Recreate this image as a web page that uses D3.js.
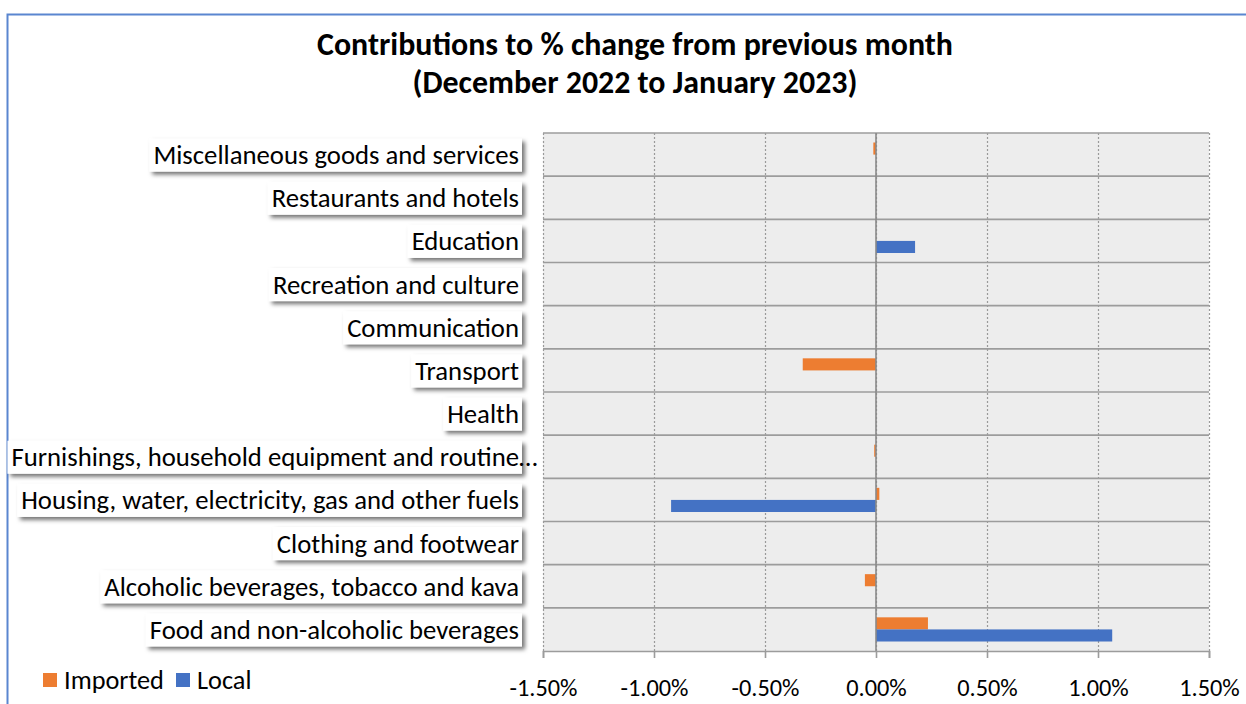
<!DOCTYPE html>
<html>
<head>
<meta charset="utf-8">
<script src="https://cdn.jsdelivr.net/npm/d3@7"></script>
<style>
  body { margin: 0; background: #fff; }
  svg { display: block; font-family: Carlito, "Open Sans", sans-serif; }
</style>
</head>
<body>
<div id="chart"></div>
<script>
// categories, bottom row first
var categories = [
  "Food and non-alcoholic beverages",
  "Alcoholic beverages, tobacco and kava",
  "Clothing and footwear",
  "Housing, water, electricity, gas and other fuels",
  "Furnishings, household equipment and routine",
  "Health",
  "Transport",
  "Communication",
  "Recreation and culture",
  "Education",
  "Restaurants and hotels",
  "Miscellaneous goods and services"
];
var series = ["Imported", "Local"];
var imported = [0.00234, -0.0005, 0, 0.00015, -0.00008, 0, -0.0033, 0, 0, 0, 0, -0.00012];
var local = [0.01064, 0, 0, -0.00923, 0, 0, 0, 0, 0, 0.00176, 0, 0];
var xTicks = [-0.015, -0.01, -0.005, 0, 0.005, 0.01, 0.015];
var colors = { Imported: "#ED7D31", Local: "#4472C4" };

var svgWidth = 1246;
var svgHeight = 704;
var margin = { top: 133, right: 37, bottom: 53, left: 543 };
var width = svgWidth - margin.left - margin.right;
var height = svgHeight - margin.top - margin.bottom;
var FONT = "Carlito, 'Open Sans', sans-serif";

var rows = categories.map(function(c, i) {
  return { cat: c, Imported: imported[i], Local: local[i] };
});

var svg = d3.select("#chart")
  .append("svg")
  .attr("width", svgWidth)
  .attr("height", svgHeight);

// font size that makes a sample string reach a target width
function fitSize(sample, target, weight) {
  var t = svg.append("text").attr("font-size", 20).attr("font-weight", weight || "normal")
    .style("font-family", FONT).text(sample);
  var w = t.node().getComputedTextLength();
  t.remove();
  return 20 * target / w;
}
var labelSize = fitSize("Housing, water, electricity, gas and other fuels", 498);
var titleSize = fitSize("Contributions to % change from previous month", 636, "bold");
var tickSize = fitSize("-1.00%", 68);
var legendSize = fitSize("Imported", 100);

var defs = svg.append("defs");
var shadow = defs.append("filter").attr("id", "shadow")
  .attr("x", "-5%").attr("y", "-30%").attr("width", "115%").attr("height", "180%");
shadow.append("feDropShadow")
  .attr("dx", 3).attr("dy", 3).attr("stdDeviation", 2)
  .attr("flood-color", "#000").attr("flood-opacity", 0.55);

// outer frame (only top and left edges visible)
svg.append("path")
  .attr("d", "M7.5," + svgHeight + "V14.5H" + svgWidth)
  .attr("fill", "none")
  .attr("stroke", "#5a86d0")
  .attr("stroke-width", 2);

// title
var title = svg.append("text")
  .attr("text-anchor", "middle")
  .attr("font-weight", "bold")
  .attr("font-size", titleSize)
  .attr("fill", "#000");
title.append("tspan").attr("x", 635).attr("y", 55).text("Contributions to % change from previous month");
title.append("tspan").attr("x", 635).attr("y", 93).text("(December 2022 to January 2023)");

var chart = svg.append("g")
  .attr("transform", `translate(${margin.left}, ${margin.top})`);

var x = d3.scaleLinear()
  .domain([-0.015, 0.015])
  .range([0, width]);

var y = d3.scaleBand()
  .domain(categories.slice().reverse())
  .range([0, height])
  .paddingInner(0.44)
  .paddingOuter(0.22);

var ySub = d3.scaleBand()
  .domain(series)
  .range([0, y.bandwidth()]);

// plot background
chart.append("rect")
  .attr("width", width)
  .attr("height", height)
  .attr("fill", "#ededed");

// vertical dotted gridlines
chart.append("g")
  .call(d3.axisBottom(x).tickValues(xTicks).tickSize(height).tickFormat(""))
  .call(function(g) {
    g.select(".domain").remove();
    g.selectAll("line").attr("stroke", "#9a9a9a").attr("stroke-dasharray", "2,2").attr("stroke-width", 1.2);
  });

// horizontal row separators
var step = y.step();
chart.append("g")
  .selectAll("line")
  .data(categories)
  .enter()
  .append("line")
  .attr("x1", 0)
  .attr("x2", width)
  .attr("y1", d => y(d) - y.paddingInner() * step / 2)
  .attr("y2", d => y(d) - y.paddingInner() * step / 2)
  .attr("stroke", "#9c9c9c")
  .attr("stroke-width", 1.6);

// bars
var groups = chart.selectAll(".cat")
  .data(rows)
  .enter()
  .append("g")
  .attr("class", "cat")
  .attr("transform", d => `translate(0, ${y(d.cat)})`);

groups.selectAll("rect")
  .data(d => series.map(s => ({ s: s, v: d[s] })))
  .enter()
  .append("rect")
  .attr("x", d => x(Math.min(0, d.v)))
  .attr("y", d => ySub(d.s))
  .attr("width", d => Math.abs(x(d.v) - x(0)))
  .attr("height", ySub.bandwidth())
  .attr("fill", d => colors[d.s]);

// zero line
chart.append("line")
  .attr("x1", x(0)).attr("x2", x(0))
  .attr("y1", 0).attr("y2", height)
  .attr("stroke", "#8a8a8a")
  .attr("stroke-width", 1.6);

// bottom axis
var pct = d3.format(".2%");
chart.append("g")
  .attr("transform", `translate(0, ${height})`)
  .call(d3.axisBottom(x).tickValues(xTicks).tickFormat(d => pct(d).replace("\u2212", "-")).tickSize(7).tickPadding(21))
  .call(function(g) {
    g.select(".domain").attr("stroke", "#9c9c9c").attr("stroke-width", 1.6);
    g.selectAll("line").attr("stroke", "#9c9c9c").attr("stroke-width", 1.6);
    g.selectAll("text").attr("font-size", tickSize).attr("fill", "#000")
      .style("font-family", FONT);
  });

// category labels in shadowed white boxes
var leftAxis = chart.append("g")
  .attr("transform", "translate(-24, 1)")
  .call(d3.axisLeft(y).tickSize(0).tickPadding(0))
  .call(function(g) {
    g.select(".domain").remove();
    g.selectAll("text").attr("font-size", labelSize).attr("fill", "#000")
      .style("font-family", FONT);
  });

leftAxis.selectAll(".tick").each(function(d) {
  var t = d3.select(this);
  var txt = t.select("text");
  var bb = txt.node().getBBox();
  t.insert("rect", "text")
    .attr("x", bb.x - 4)
    .attr("y", -17)
    .attr("width", bb.width + 7)
    .attr("height", 33)
    .attr("fill", "#fff")
    .attr("filter", "url(#shadow)");
  if (d.indexOf("Furnishings") === 0) {
    t.append("text")
      .attr("x", 0)
      .attr("dy", "0.32em")
      .attr("font-size", labelSize)
      .style("font-family", FONT)
      .attr("fill", "#000")
      .attr("text-anchor", "start")
      .text("\u2026");
  }
});

// legend
var legend = svg.append("g").attr("transform", "translate(43, 673)");
series.forEach(function(s, i) {
  var off = i === 0 ? 0 : 133;
  legend.append("rect")
    .attr("x", off).attr("y", 0)
    .attr("width", 14).attr("height", 14)
    .attr("fill", colors[s]);
  legend.append("text")
    .attr("x", off + 21).attr("y", 16)
    .attr("font-size", legendSize)
    .attr("fill", "#000")
    .text(s);
});
</script>
</body>
</html>
